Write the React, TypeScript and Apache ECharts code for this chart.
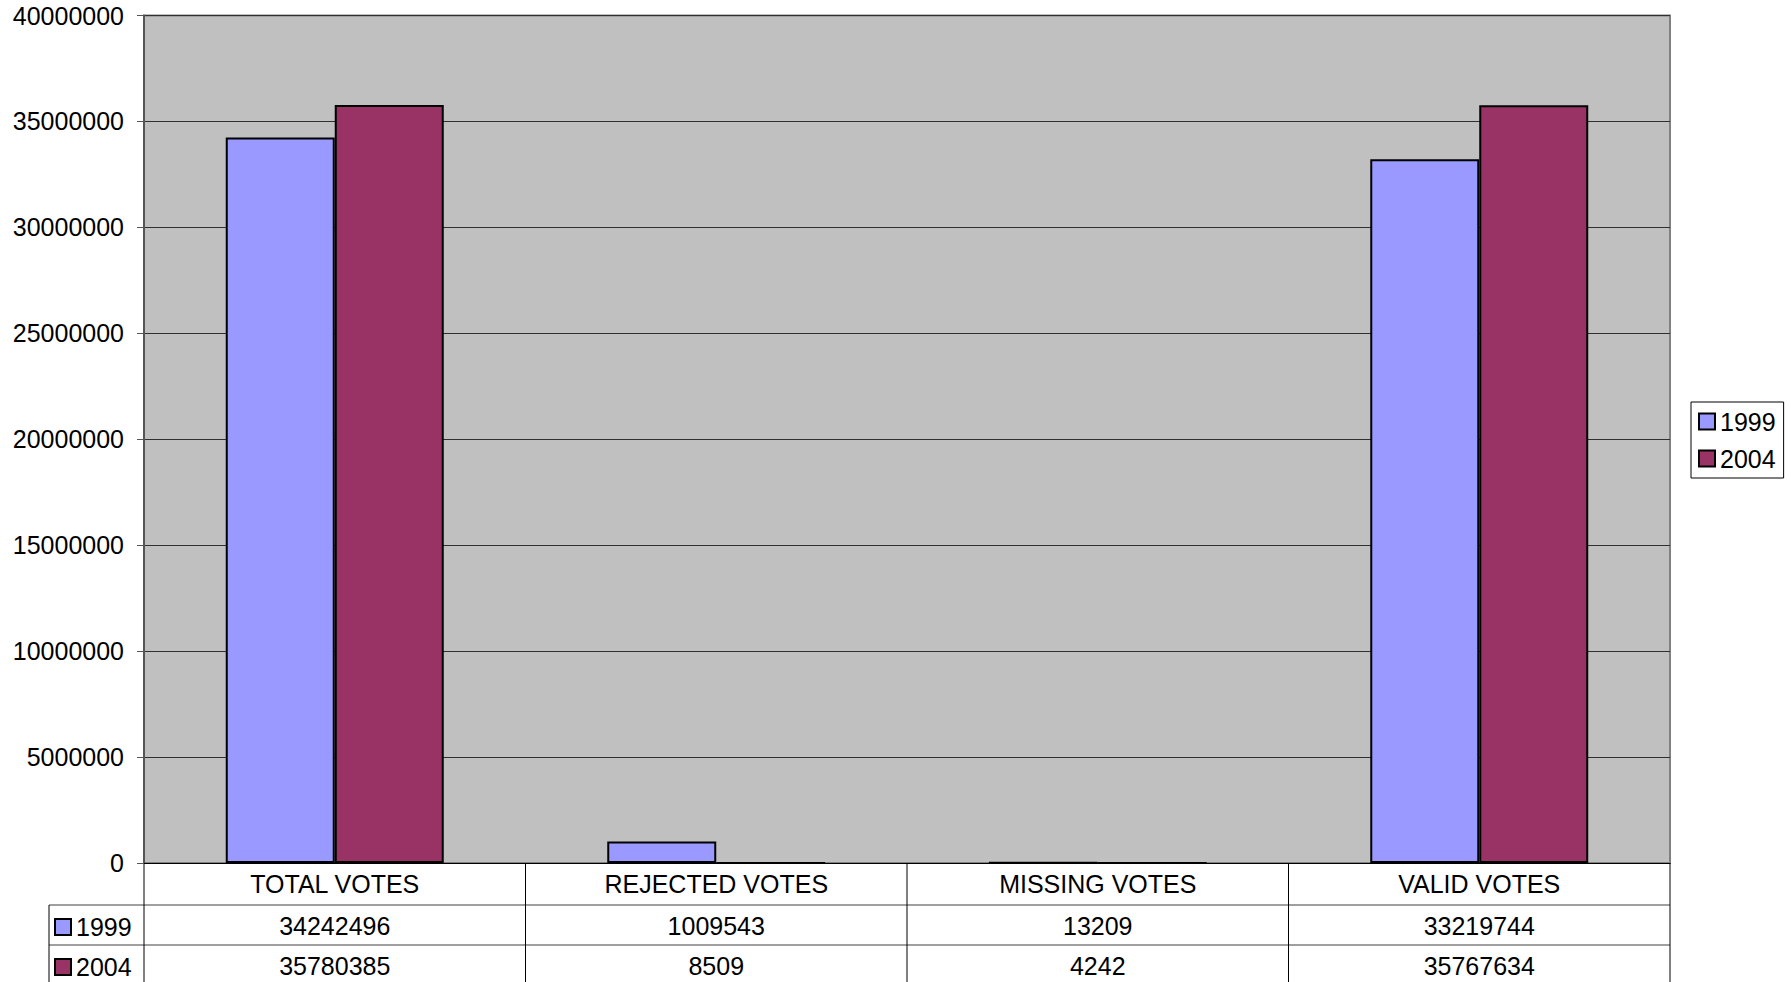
import React, { useEffect, useRef } from "react";
import * as echarts from "echarts";

const categories = ["TOTAL VOTES", "REJECTED VOTES", "MISSING VOTES", "VALID VOTES"];
const seriesNames = ["1999", "2004"];
const votes1999 = [34242496, 1009543, 13209, 33219744];
const votes2004 = [35780385, 8509, 4242, 35767634];
const seriesColors = ["#9999FF", "#993366"];

const W = 1791;
const H = 982;
const GRID_LEFT = 144;
const GRID_RIGHT_X = 1670;
const GRID_TOP = 15.5;
const GRID_BOTTOM_Y = 863;
const FONT = "'Liberation Sans', Arial, sans-serif";
const FS = 25;

export default function App() {
  const ref = useRef<HTMLDivElement>(null);

  useEffect(() => {
    document.body.style.margin = "0";
    if (!ref.current) return;
    const chart = echarts.init(ref.current, undefined, { renderer: "svg" });

    const plotW = GRID_RIGHT_X - GRID_LEFT;
    const catW = plotW / categories.length;
    const tableLeft = 49;
    const row1 = 905;
    const row2 = 945;
    const lineColor = "#000";

    const graphics: any[] = [];
    [row1, row2].forEach((y) => {
      graphics.push({
        type: "line",
        shape: { x1: tableLeft, y1: y, x2: GRID_RIGHT_X, y2: y },
        style: { stroke: "#404040", lineWidth: 1 },
        silent: true,
      });
    });
    for (let i = 0; i <= categories.length; i++) {
      const x = GRID_LEFT + catW * i;
      graphics.push({
        type: "line",
        shape: { x1: x, y1: GRID_BOTTOM_Y, x2: x, y2: H },
        style: { stroke: lineColor, lineWidth: 1 },
        silent: true,
      });
    }
    graphics.push({
      type: "line",
      shape: { x1: tableLeft, y1: row1, x2: tableLeft, y2: H },
      style: { stroke: lineColor, lineWidth: 1 },
      silent: true,
    });

    const rows = [votes1999, votes2004];
    const rowCenters = [927, 967];
    rows.forEach((vals, r) => {
      graphics.push({
        type: "rect",
        shape: { x: 55, y: rowCenters[r] - 8, width: 16, height: 16 },
        style: { fill: seriesColors[r], stroke: "#000", lineWidth: 2 },
        silent: true,
      });
      graphics.push({
        type: "text",
        x: 76,
        y: rowCenters[r],
        style: {
          text: seriesNames[r],
          fill: "#000",
          fontSize: FS,
          fontFamily: FONT,
          align: "left",
          verticalAlign: "middle",
        },
        silent: true,
      });
      vals.forEach((v, i) => {
        graphics.push({
          type: "text",
          x: GRID_LEFT + catW * (i + 0.5),
          y: rowCenters[r] - 1,
          style: {
            text: String(v),
            fill: "#000",
            fontSize: FS,
            fontFamily: FONT,
            align: "center",
            verticalAlign: "middle",
          },
          silent: true,
        });
      });
    });

    chart.setOption({
      animation: false,
      backgroundColor: "#fff",
      textStyle: { fontFamily: FONT },
      grid: {
        left: GRID_LEFT,
        top: GRID_TOP,
        right: W - GRID_RIGHT_X,
        bottom: H - GRID_BOTTOM_Y,
        show: true,
        backgroundColor: "#C0C0C0",
        borderColor: "#808080",
        borderWidth: 2,
        containLabel: false,
      },
      legend: {
        data: seriesNames,
        orient: "vertical",
        left: 1691,
        top: 402,
        padding: [6, 8, 6, 7],
        itemGap: 10,
        itemWidth: 16,
        itemHeight: 16,
        icon: "rect",
        borderColor: "#000",
        borderWidth: 1,
        backgroundColor: "#fff",
        itemStyle: { borderColor: "#000", borderWidth: 2 },
        textStyle: { fontSize: FS, color: "#000", fontFamily: FONT, lineHeight: 25, padding: [2, 0, 0, 0] },
      },
      xAxis: {
        type: "category",
        data: categories,
        axisTick: { show: false },
        axisLine: { show: true, lineStyle: { color: "#000", width: 1 } },
        axisLabel: {
          color: "#000",
          fontSize: FS,
          fontFamily: FONT,
          margin: 21,
          verticalAlign: "middle",
          interval: 0,
        },
        splitLine: { show: false },
      },
      yAxis: {
        type: "value",
        min: 0,
        max: 40000000,
        interval: 5000000,
        axisLine: { show: true, lineStyle: { color: "#555", width: 2 } },
        axisTick: { show: true, length: 7, lineStyle: { color: "#555" } },
        axisLabel: {
          color: "#000",
          fontSize: FS,
          fontFamily: FONT,
          margin: 20,
          formatter: (v: number) => String(v),
        },
        splitLine: { show: true, lineStyle: { color: "#303030", width: 1 } },
      },
      series: [
        {
          name: seriesNames[0],
          type: "bar",
          data: votes1999,
          barGap: "0%",
          barCategoryGap: "42.86%",
          itemStyle: { color: seriesColors[0], borderColor: "#000", borderWidth: 2 },
        },
        {
          name: seriesNames[1],
          type: "bar",
          data: votes2004,
          barGap: "0%",
          barCategoryGap: "42.86%",
          itemStyle: { color: seriesColors[1], borderColor: "#000", borderWidth: 2 },
        },
      ],
      graphic: graphics,
    });

    return () => chart.dispose();
  }, []);

  return <div ref={ref} style={{ width: W, height: H }} />;
}
